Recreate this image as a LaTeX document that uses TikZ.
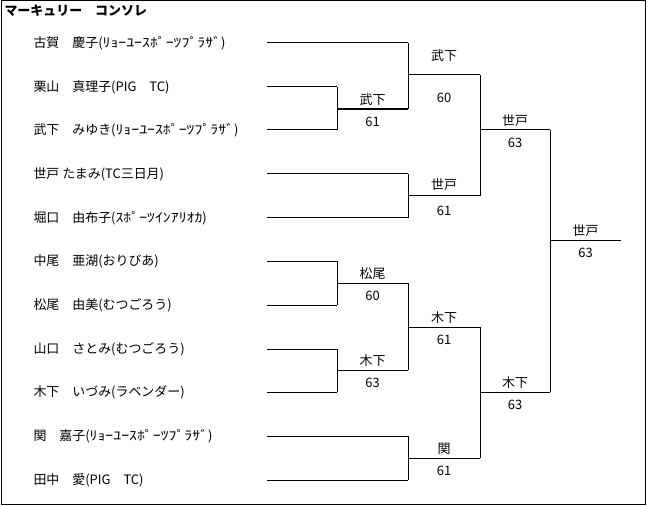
\documentclass[tikz,border=0pt]{standalone}
\usepackage{fontspec}
\usepackage{graphicx}
\setmainfont{Noto Sans CJK JP}
\usetikzlibrary{calc}

\newcommand{\hk}[1]{\scalebox{1.22}[1]{#1}}

\tikzset{
  player/.style={anchor=west,inner sep=0pt,font=\fontsize{13}{15}\selectfont},
  winner/.style={inner sep=0pt,font=\fontsize{13}{15}\selectfont},
  titel/.style={anchor=west,inner sep=0pt,font=\fontsize{13}{15}\selectfont\bfseries},
  heavy/.style={line width=2.2bp},
}

\begin{document}
\begin{tikzpicture}[x=1bp,y=-1bp,line width=1bp]
  \useasboundingbox (0,0) rectangle (649,506);
  \draw (1,1) rectangle (645,504);
  \node[titel] (title) at (4,11) {マーキュリー　コンソレ};
  % players
  \foreach \i/\y/\x/\txt in {1/43/408/古賀　慶子(\hk{ﾘｮｰﾕｰｽﾎﾟｰﾂﾌﾟﾗｻﾞ}),
      2/87/337/栗山　真理子(PIG　TC),
      3/130/337/武下　みゆき(\hk{ﾘｮｰﾕｰｽﾎﾟｰﾂﾌﾟﾗｻﾞ}),
      4/174/408/世戸 たまみ(TC三日月),
      5/218/408/堀口　由布子(\hk{ｽﾎﾟｰﾂｲﾝｱﾘｵｶ}),
      6/261/337/中尾　亜湖(おりびあ),
      7/305/337/松尾　由美(むつごろう),
      8/349/337/山口　さとみ(むつごろう),
      9/392/337/木下　いづみ(ラベンダー),
      10/436/408/関　嘉子(\hk{ﾘｮｰﾕｰｽﾎﾟｰﾂﾌﾟﾗｻﾞ}),
      11/480/408/田中　愛(PIG　TC)} {%
    \node[player] (p\i) at (33,\y) {\txt};
    \coordinate (s\i) at (267,\y);
    \coordinate (e\i) at (\x,\y);
    \draw (s\i) -- (e\i);
  }
  % matches
  \foreach \m/\a/\b/\xe/\ym/\g/\w/\s in {A/e2/e3/408/109/0/武下/61,
      B/e1/Ae/480/75/10/武下/60,
      C/e4/e5/480/196/2/世戸/61,
      D/Be/Ce/550/130/0/世戸/63,
      E/e6/e7/408/283/0/松尾/60,
      F/e8/e9/408/370/0/木下/63,
      G/Ee/Fe/480/327/0/木下/61,
      H/e10/e11/480/458/0/関/61,
      I/Ge/He/550/392/0/木下/63,
      J/De/Ie/621/240/0/世戸/63} {%
    \coordinate (\m) at (\a |- 0,\ym);
    \coordinate (\m e) at (\xe,\ym);
    \draw (\a) -- (\b);
    \draw (\m) -- (\m e);
    \node[winner] (w\m) at ($(\m)!0.5!(\m e)+(0,-9-\g)$) {\w};
    \node[winner] (r\m) at ($(\m)!0.5!(\m e)+(0,13+\g)$) {\s};
  }
  \draw[heavy] (A) -- (Ae);
\end{tikzpicture}
\end{document}
